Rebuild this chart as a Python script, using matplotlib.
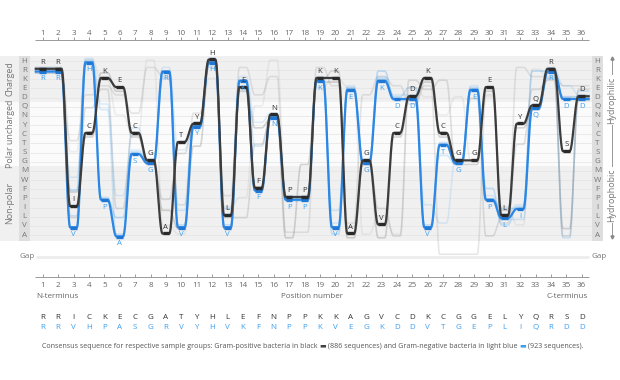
# Sequence bundle chart: consensus of gram-positive vs gram-negative samples
import numpy as np
import matplotlib
matplotlib.use("Agg")
import matplotlib.pyplot as plt
from matplotlib.patches import Rectangle

plt.rcParams['font.family'] = ['Open Sans', 'DejaVu Sans']

# residues top to bottom, grouped by property
residues = ["H", "R", "K", "E", "D", "Q", "N", "Y", "C", "T", "S", "G",
            "M", "W", "F", "P", "I", "L", "V", "A"]
groups = ["Charged", "Polar uncharged", "Non-polar"]
group_sizes = [5, 7, 8]
positions = list(range(1, 37))

# consensus sequences ('-' = gap)
gram_pos = "RRICKECGATYHLEFNPPKKAGVCDKCGGELYQRSD"
gram_neg = "RRVHPASGRVYHVKFNPPKVEGKDDVTGEPLIQRDD"
gram_pos_n = 886
gram_neg_n = 923

# some of the less common variants seen in each group
gram_pos_alt = ["RRTDEDNRKINRPRDKAAREVDKEQE---DVRKKEE",
                "RRSHKNCHVAYKIPQHPPEKEALAEDNDGDIVRKDD",
                "RRLQEICGPSYHLLTNPPKRVGIAKEKGDALTEKAE",
                "RRFCRECGIVTHVEYNAGKKAGACDKCGGEIYQRVD"]
gram_pos_alpha = [0.2, 0.12, 0.25, 0.35]
gram_neg_alt = ["RRWHQPSGRSYHLKYNPPKVEGKDDIVGEPLIQRED",
                "RRLHPASGKVYHVEFNPPKAEGKDEVTGEFVIQKDD",
                "RRFHPLSGRVYHIKFNPPKVEGRDDVTGEPIIRRDD",
                "RRVHQAYGRIYHVKTNPPKIEGKDDVSGEPLLQRAE"]
gram_neg_alpha = [0.15, 0.25, 0.3, 0.2]

GAP_ROW = 21.4
row = {r: i for i, r in enumerate(residues)}
row["-"] = GAP_ROW

BLACK = "#3c3c3c"
BLUE = "#2b87e3"
BLUE_TXT = "#3d9ff0"
GREY_TXT = "#777777"
FS = 5.8


def bundle(seq, w=0.22, n=40):
    ys = [row[c] for c in seq]
    xo, yo = [positions[0] - 0.45], [ys[0]]
    for i, (p, y) in enumerate(zip(positions, ys)):
        xo += [p - w, p + w]
        yo += [y, y]
        if i < len(ys) - 1:
            t = np.linspace(0, 1, n)[1:-1]
            s = (1 - np.cos(np.pi * t)) / 2
            xo += list(p + w + t * (1 - 2 * w))
            yo += list(y + (ys[i + 1] - y) * s)
    xo.append(positions[-1] + 0.45)
    yo.append(ys[-1])
    return np.array(xo), np.array(yo)


fig = plt.figure(figsize=(6.2, 3.8), dpi=100)
ax = fig.add_axes([0, 0, 1, 1])
ax.set_xlim(-1.773, 38.487)
ax.set_ylim(34.83, -6.661)
ax.axis("off")

# background bands
x_left, x_right = 0.175, 36.67
edges = np.cumsum([0] + group_sizes) - 0.5
edges[0], edges[-1] = -0.6, 19.6
band_cols = ["#f0f0f0", "#fbfbfb", "#f0f0f0"]
for g, name in enumerate(groups):
    y0, y1 = edges[g], edges[g + 1]
    ax.add_patch(Rectangle((x_left, y0), x_right - x_left, y1 - y0, color=band_cols[g], lw=0, zorder=0))
    ax.add_patch(Rectangle((-1.773, y0), 1.233, y1 - y0, color=band_cols[g], lw=0, zorder=0))
    ax.text(-1.12, (y0 + y1) / 2, name, rotation=90, ha="center", va="center",
            fontsize=6.4, color=GREY_TXT)
ax.add_patch(Rectangle((-0.54, -0.6), 0.715, 20.2, color="#dedede", lw=0, zorder=0))
ax.add_patch(Rectangle((36.67, -0.6), 0.72, 20.2, color="#dedede", lw=0, zorder=0))

for r in residues:
    i = row[r]
    ax.hlines(i, x_left, x_right, color="#e4e4e4", lw=0.5, zorder=1)
    ax.text(-0.19, i, r, ha="center", va="center", fontsize=FS, color=GREY_TXT)
    ax.text(37.03, i, r, ha="center", va="center", fontsize=FS, color=GREY_TXT)

# gap row
ax.hlines(GAP_ROW, 0.55, 36.5, color="#ededed", lw=2, zorder=1)
ax.text(-0.02, GAP_ROW, "Gap", ha="center", va="center", fontsize=FS, color=GREY_TXT)
ax.text(37.1, GAP_ROW, "Gap", ha="center", va="center", fontsize=FS, color=GREY_TXT)

# variant lines
for k, (seq, a) in enumerate(zip(gram_pos_alt, gram_pos_alpha)):
    x, y = bundle(seq)
    ax.plot(x, y + 0.2 * (k - 1.5), color="#8a8a8a", lw=1.2, alpha=a, zorder=2)
for k, (seq, a) in enumerate(zip(gram_neg_alt, gram_neg_alpha)):
    x, y = bundle(seq)
    ax.plot(x, y + 0.2 * (k - 1.5), color=BLUE_TXT, lw=1.2, alpha=a, zorder=2)

# consensus lines
xb, yb = bundle(gram_neg)
ax.plot(xb, yb + 0.15, color=BLUE, lw=1.6, zorder=3)
xk, yk = bundle(gram_pos)
ax.plot(xk, yk - 0.15, color=BLACK, lw=1.6, zorder=4)

for p, a, b in zip(positions, gram_pos, gram_neg):
    ax.hlines(row[b] + 0.18, p - 0.22, p + 0.22, color="#1f78d6", lw=2.4, zorder=3)
    ax.hlines(row[a] - 0.18, p - 0.22, p + 0.22, color="#2a2a2a", lw=2.4, zorder=4)
    ax.text(p, row[a] - 0.85, a, ha="center", va="center", fontsize=5.6,
            color="#333333", zorder=5)
    ax.text(p, row[b] + 0.95, b, ha="center", va="center", fontsize=5.6,
            color=BLUE_TXT, zorder=5)

# top axis
ax.hlines(-2.29, 0.5, 36.5, color="#999999", lw=0.7)
ax.vlines(positions, -2.29, -2.6, color="#999999", lw=0.7)
for p in positions:
    ax.text(p, -3.0, str(p), ha="center", va="center", fontsize=FS, color="#666666")

# bottom axis
ax.hlines(23.59, 0.5, 36.5, color="#999999", lw=0.7)
ax.vlines(positions, 23.59, 23.26, color="#999999", lw=0.7)
for p in positions:
    ax.text(p, 24.46, str(p), ha="center", va="center", fontsize=FS, color="#666666")
ax.text(0.6, 25.7, "N-terminus", ha="left", va="center", fontsize=FS, color="#666666")
ax.text(18.5, 25.7, "Position number", ha="center", va="center", fontsize=FS, color="#666666")
ax.text(36.4, 25.7, "C-terminus", ha="right", va="center", fontsize=FS, color="#666666")

# hydrophilic / hydrophobic arrow
ax.plot([37.97, 37.97], [-0.33, 19.2], color="#888888", lw=0.6)
ax.plot([37.97], [-0.33], marker="^", ms=2.2, color="#888888")
ax.plot([37.97], [19.2], marker="v", ms=2.2, color="#888888")
for label, yc in [("Hydrophilic", 4.26), ("Hydrophobic", 14.63)]:
    ax.text(37.97, yc, label, rotation=90, ha="center", va="center", fontsize=6.4,
            color=GREY_TXT, bbox=dict(fc="white", ec="none", pad=1.2))

# consensus sequences written out
for p, a, b in zip(positions, gram_pos, gram_neg):
    ax.text(p, 28.06, a, ha="center", va="center", fontsize=FS, color="#333333")
    ax.text(p, 29.15, b, ha="center", va="center", fontsize=FS, color=BLUE_TXT)

# caption with colour swatches
cap = [("Consensus sequence for respective sample groups: Gram-positive bacteria in black ", "#555555"),
       ("\u25ac", "#444444"),
       (f" ({gram_pos_n} sequences) and Gram-negative bacteria in light blue ", "#555555"),
       ("\u25ac", "#3d9ff0"),
       (f" ({gram_neg_n} sequences).", "#555555")]
t = ax.text(0.95, 31.12, cap[0][0], ha="left", va="center", fontsize=5.15, color=cap[0][1])
for s, c in cap[1:]:
    t = ax.annotate(s, xy=(1, 0), xycoords=t, ha="left", va="bottom",
                    fontsize=5.15, color=c)

fig.savefig("out.png", dpi=100)
